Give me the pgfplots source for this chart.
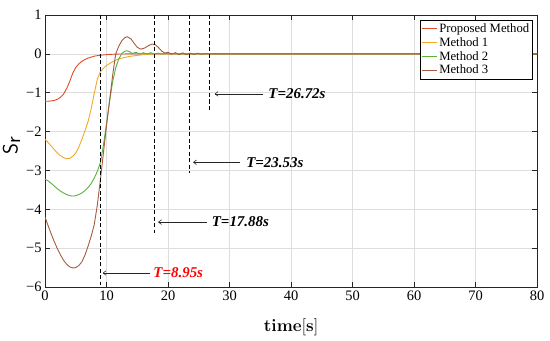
\documentclass[border=0pt]{standalone}
\usepackage{pgfplots}
\pgfplotsset{compat=1.18}
\usepackage[no-math]{fontspec}
\setmainfont{Liberation Serif}
\usetikzlibrary{arrows.meta}
\definecolor{cProp}{RGB}{218,78,38}
\definecolor{cM1}{RGB}{240,168,42}
\definecolor{cM2}{RGB}{92,176,62}
\definecolor{cM3}{RGB}{165,92,60}
\definecolor{axgray}{rgb}{0.15,0.15,0.15}
\begin{document}
\begin{tikzpicture}
\begin{axis}[
  scale only axis,
  width=492bp, height=272bp,
  xmin=0, xmax=80, ymin=-6, ymax=1,
  xtick={0,10,...,80},
  ytick={-6,-5,-4,-3,-2,-1,0,1},
  yticklabels={−6,−5,−4,−3,−2,−1,0,1},
  /pgf/number format/assume math mode=true,
  tick label style={font=\fontsize{14.5}{16}\selectfont, text=black},
  tick align=inside,
  major tick length=5bp,
  grid=major,
  major grid style={draw=black!13, line width=0.6bp},
  axis line style={draw=axgray, line width=0.8bp},
  every tick/.style={draw=axgray, line width=0.7bp},
  xlabel={$\mathbf{time[s]}$},
  ylabel={\sffamily S\raisebox{-0.12em}{r}},
  xlabel style={font=\fontsize{18}{20}\selectfont, at={(axis description cs:0.5,-0.148)}, anchor=center},
  ylabel style={font=\fontsize{21}{23}\selectfont, at={(axis description cs:-0.068,0.52)}, anchor=center},
  legend style={at={(rel axis cs:0.992,0.982)}, anchor=north east,
    font=\fontsize{12.75}{13}\selectfont, draw=black, line width=0.6bp,
    inner xsep=1.5bp, inner ysep=1.5bp, row sep=-0.5bp,
    /tikz/every even column/.append style={column sep=0bp}},
  legend cell align=left,
  legend image code/.code={\draw[#1, line width=0.9bp] (0bp,0bp) -- (15bp,0bp);},
  every axis plot/.append style={line width=0.9bp},
]
\addplot[cProp] coordinates {(0,-1.22)(0.5,-1.22)(1,-1.21)(1.5,-1.2)(2,-1.17)(2.5,-1.12)(3,-1.04)(3.5,-0.9)(4,-0.72)(4.5,-0.5)(5,-0.35)(5.5,-0.26)(6,-0.19)(6.5,-0.145)(7,-0.11)(8,-0.06)(9,-0.035)(10,-0.02)(11,-0.01)(12,-0.005)(14,0)(80,0)};
\addlegendentry{Proposed Method}
\addplot[cM1] coordinates {(0,-2.2)(0.5,-2.28)(1,-2.37)(1.5,-2.46)(2,-2.55)(2.5,-2.62)(3,-2.67)(3.5,-2.7)(4,-2.69)(4.5,-2.64)(5,-2.55)(5.5,-2.4)(6,-2.2)(6.5,-1.98)(7,-1.74)(7.5,-1.42)(8,-1.02)(8.5,-0.66)(9,-0.46)(9.5,-0.37)(10,-0.3)(11,-0.2)(12,-0.13)(13,-0.09)(14,-0.06)(15,-0.04)(16,-0.02)(18,-0.005)(20,0)(80,0)};
\addlegendentry{Method 1}
\addplot[cM2] coordinates {(0,-3.22)(0.5,-3.27)(1,-3.33)(1.5,-3.4)(2,-3.47)(2.5,-3.53)(3,-3.58)(3.5,-3.62)(4,-3.65)(4.6,-3.66)(5,-3.65)(5.5,-3.62)(6,-3.58)(6.5,-3.52)(7,-3.44)(7.5,-3.34)(8,-3.2)(8.5,-3.03)(9,-2.8)(9.5,-2.35)(10,-1.8)(10.5,-1.22)(11,-0.72)(11.5,-0.36)(12,-0.13)(12.5,0.01)(13,0.07)(13.3,0.08)(13.7,0.06)(14.2,0.01)(14.8,0.04)(15.4,-0.01)(16,0.03)(16.6,-0.01)(17.2,0.03)(17.8,-0.01)(18.4,0.02)(19,-0.01)(19.6,0.015)(20.2,-0.005)(20.8,0.01)(21.5,0)(80,0)};
\addlegendentry{Method 2}
\addplot[cM3] coordinates {(0,-4.2)(0.5,-4.42)(1,-4.63)(1.5,-4.83)(2,-5.01)(2.5,-5.17)(3,-5.31)(3.5,-5.41)(4,-5.48)(4.5,-5.51)(5,-5.5)(5.5,-5.45)(6,-5.35)(6.5,-5.18)(7,-4.95)(7.5,-4.7)(8,-4.4)(8.5,-3.9)(9,-3.25)(9.5,-2.55)(10,-1.85)(10.5,-1.2)(11,-0.55)(11.5,0.0)(12,0.2)(12.5,0.34)(13,0.42)(13.4,0.44)(14,0.38)(14.5,0.27)(15,0.17)(15.6,0.12)(16.2,0.15)(16.8,0.21)(17.4,0.25)(17.9,0.24)(18.4,0.17)(19,0.07)(19.5,0.02)(20,0.04)(20.6,-0.01)(21.2,0.03)(21.8,-0.02)(22.4,0.025)(23,-0.02)(23.6,0.02)(24.2,-0.015)(24.8,0.015)(25.4,-0.01)(26,0.005)(26.7,0)(80,0)};
\addlegendentry{Method 3}
% convergence markers
\addplot[black, line width=1bp, dash pattern=on 4bp off 2.5bp, forget plot] coordinates {(8.95,1)(8.95,-5.95)};
\addplot[black, line width=1bp, dash pattern=on 4bp off 2.5bp, forget plot] coordinates {(17.88,1)(17.88,-4.61)};
\addplot[black, line width=1bp, dash pattern=on 4bp off 2.5bp, forget plot] coordinates {(23.53,1)(23.53,-3.07)};
\addplot[black, line width=1bp, dash pattern=on 4bp off 2.5bp, forget plot] coordinates {(26.72,1)(26.72,-1.44)};
\draw[-{To[length=3.5bp,width=5bp]}, line width=0.6bp, black!85] (axis cs:17.1,-5.64) -- (axis cs:9.4,-5.64);
\draw[-{To[length=3.5bp,width=5bp]}, line width=0.6bp, black!85] (axis cs:26.3,-4.33) -- (axis cs:18.4,-4.33);
\draw[-{To[length=3.5bp,width=5bp]}, line width=0.6bp, black!85] (axis cs:31.7,-2.79) -- (axis cs:24.1,-2.79);
\draw[-{To[length=3.5bp,width=5bp]}, line width=0.6bp, black!85] (axis cs:35.5,-1.03) -- (axis cs:27.6,-1.03);
\node[anchor=west, inner sep=0pt, text=red, font=\fontsize{15}{17}\selectfont\bfseries\itshape] at (axis cs:17.6,-5.64) {T=8.95s};
\node[anchor=west, inner sep=0pt, font=\fontsize{15}{17}\selectfont\bfseries\itshape] at (axis cs:27.1,-4.33) {T=17.88s};
\node[anchor=west, inner sep=0pt, font=\fontsize{15}{17}\selectfont\bfseries\itshape] at (axis cs:32.7,-2.79) {T=23.53s};
\node[anchor=west, inner sep=0pt, font=\fontsize{15}{17}\selectfont\bfseries\itshape] at (axis cs:36.3,-1.03) {T=26.72s};
\end{axis}
\pgfresetboundingbox
\path ([shift={(-45bp,-54bp)}]current axis.south west) rectangle ([shift={(13bp,15bp)}]current axis.north east);
\end{tikzpicture}
\end{document}
